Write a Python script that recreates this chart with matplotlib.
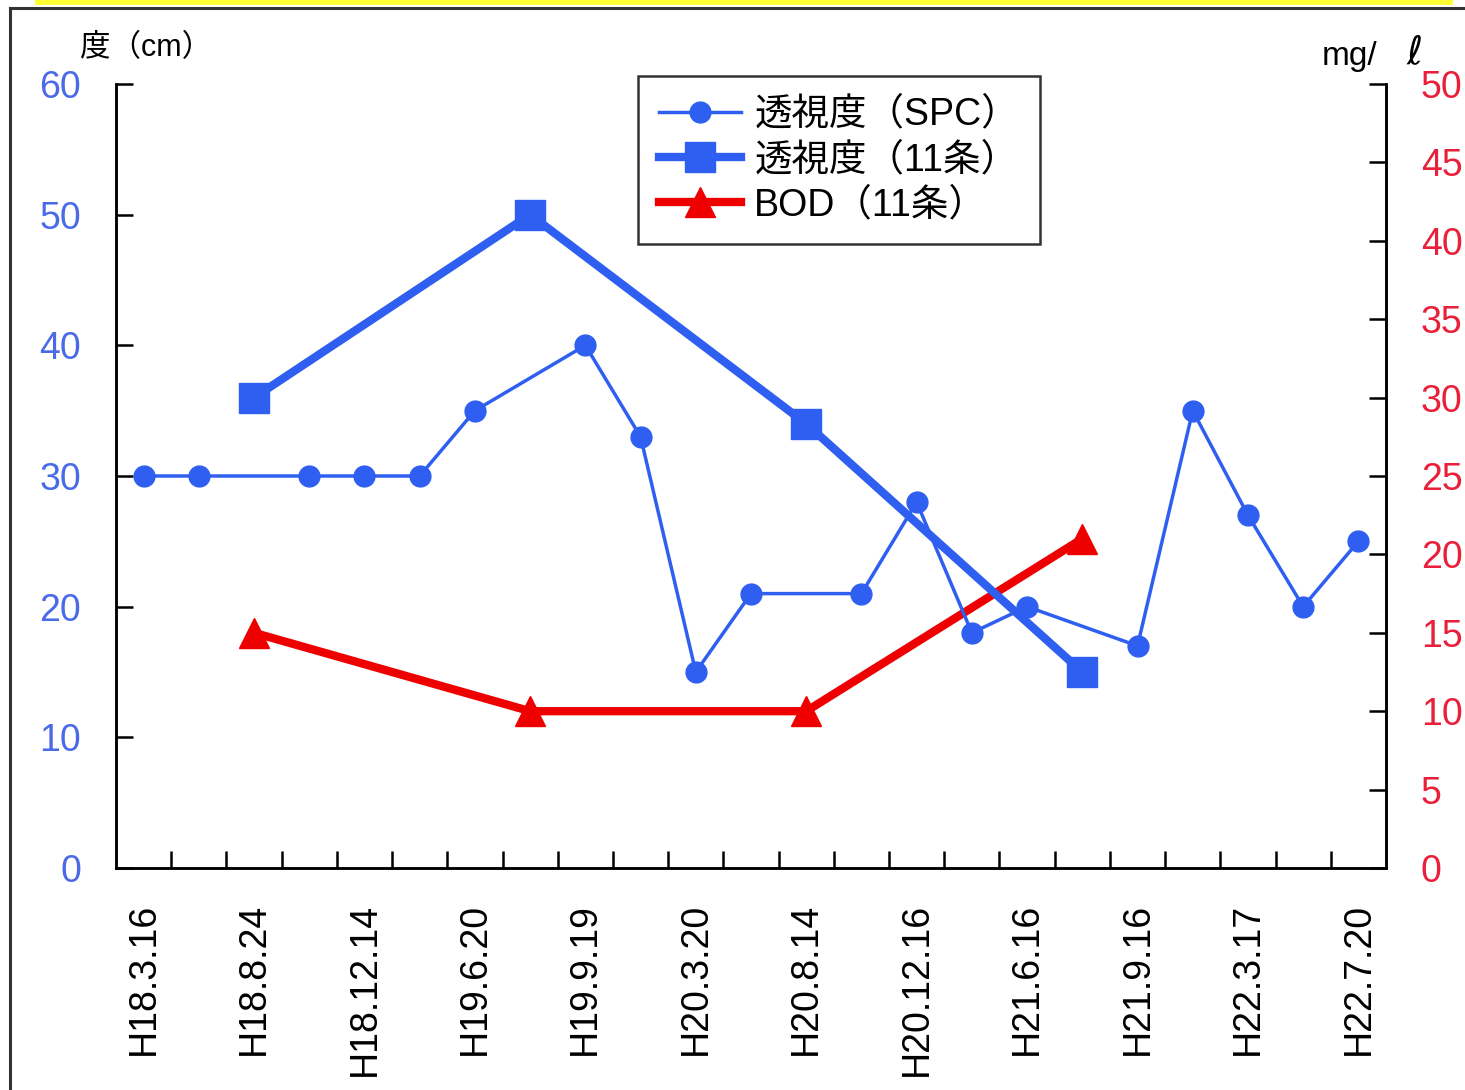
import numpy as np
import matplotlib.pyplot as plt
from matplotlib.lines import Line2D
from matplotlib.patches import Rectangle

plt.rcParams['font.family'] = ['Liberation Sans', 'Noto Sans CJK JP', 'DejaVu Sans']

# 23 sampling dates, only every other one is labelled in the original
fechas = ['H18.3.16', '', 'H18.8.24', '', 'H18.12.14', '', 'H19.6.20', '',
          'H19.9.19', '', 'H20.3.20', '', 'H20.8.14', '', 'H20.12.16', '',
          'H21.6.16', '', 'H21.9.16', '', 'H22.3.17', '', 'H22.7.20']

nan = np.nan
spc = [30, 30, nan, 30, 30, 30, 35, nan, 40, 33, 15, 21, nan, 21, 28, 18,
       20, nan, 17, 35, 27, 20, 25]
toushi_11 = [nan, nan, 36, nan, nan, nan, nan, 50, nan, nan, nan, nan, 34,
             nan, nan, nan, nan, 15, nan, nan, nan, nan, nan]
bod_11 = [nan, nan, 15, nan, nan, nan, nan, 10, nan, nan, nan, nan, 10,
          nan, nan, nan, nan, 21, nan, nan, nan, nan, nan]

azul = '#2f5ff0'
rojo = '#ee0000'

fig = plt.figure(figsize=(14.65, 10.9), dpi=100)
# marco exterior y franja amarilla
fig.patches.append(Rectangle((35/1465, 1-5/1090), 1418/1465, 5/1090, transform=fig.transFigure,
                             facecolor='#ffff33', edgecolor='none'))
fig.add_artist(Line2D([10/1465, 1.0], [1-8/1090, 1-8/1090], color='#333333', lw=2.2,
                      transform=fig.transFigure))
fig.add_artist(Line2D([10/1465, 10/1465], [0, 1-8/1090], color='#333333', lw=2.2,
                      transform=fig.transFigure))

ax = fig.add_axes([116/1465, 1-868/1090, 1270/1465, 784/1090])
ax2 = ax.twinx()

x = np.arange(len(fechas)) + 0.5

def sin_huecos(xs, ys):
    ys = np.array(ys, dtype=float)
    m = ~np.isnan(ys)
    return xs[m], ys[m]

xs, ys = sin_huecos(x, spc)
ax.plot(xs, ys, color=azul, lw=2.5, marker='o', ms=15, label='透視度（SPC）', zorder=3)
xs, ys = sin_huecos(x, toushi_11)
ax.plot(xs, ys, color=azul, lw=6, marker='s', ms=22, label='透視度（11条）', zorder=4)
xs, ys = sin_huecos(x, bod_11)
ax2.plot(xs, ys, color=rojo, lw=6, marker='^', ms=22, label='BOD（11条）', zorder=4)

ax.set_xlim(0, len(fechas))
ax.set_ylim(0, 60)
ax2.set_ylim(0, 50)
ax.set_yticks(range(0, 61, 10))
ax2.set_yticks(range(0, 51, 5))

ax.set_xticks(range(1, len(fechas)))
ax.set_xticklabels([])
ax.set_xticks(x, minor=True)
ax.set_xticklabels(fechas, minor=True, rotation=90, fontsize=27)
ax.tick_params(axis='x', which='major', direction='in', length=12, width=1.8)
ax.tick_params(axis='x', which='minor', length=0, pad=25)
ax.tick_params(axis='y', direction='in', length=12, width=1.8, labelsize=27,
               labelcolor='#4a6ae8', pad=25)
ax2.tick_params(axis='y', direction='in', length=12, width=1.8, labelsize=27,
                labelcolor='#e8203a', pad=25)

for a in (ax, ax2):
    a.spines['top'].set_visible(False)
    for s in ('left', 'right', 'bottom'):
        a.spines[s].set_linewidth(1.8)
ax.set_zorder(ax2.get_zorder() + 1)
ax.patch.set_visible(False)

fig.text(80/1465, 1-48/1090, '度（cm）', fontsize=22, va='center', ha='left')
fig.text(1322/1465, 1-57/1090, 'mg/', fontsize=24, va='center', ha='left')
fig.text(1406/1465, 1-52/1090, 'ℓ', fontsize=28, va='center', ha='left',
         family=['DejaVu Sans', 'Noto Sans CJK JP'])

h1, l1 = ax.get_legend_handles_labels()
h2, l2 = ax2.get_legend_handles_labels()
leg = ax.legend(h1 + h2, l1 + l2, loc='upper left', bbox_to_anchor=(522/1270, 1+8/784),
                fontsize=27, frameon=True, fancybox=False, edgecolor='black',
                handlelength=2.2, borderpad=0.55, labelspacing=0.25, handletextpad=0.35,
                borderaxespad=0)
leg.get_frame().set_linewidth(1.8)

fig.savefig('out.png', dpi=100)
